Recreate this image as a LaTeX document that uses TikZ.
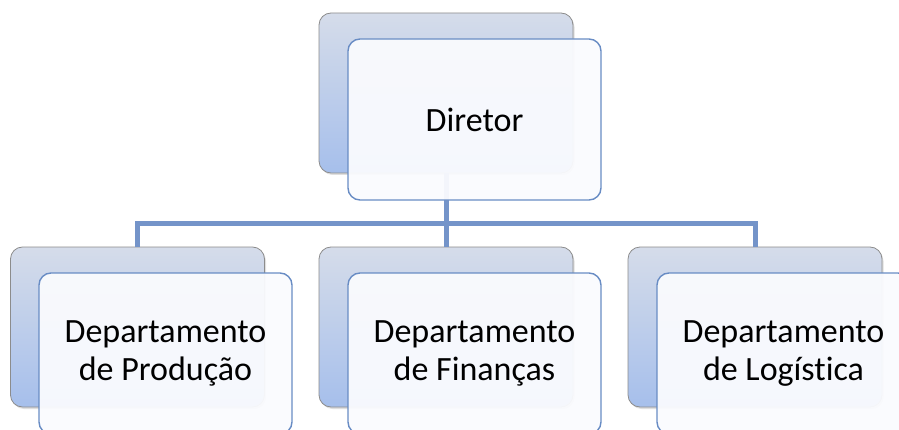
\documentclass[tikz,border=0pt]{standalone}
\usepackage{fontspec}
\setmainfont{Carlito}[Ligatures={NoCommon}]
\usetikzlibrary{calc,positioning,shadows}
\definecolor{linkblue}{RGB}{116,148,201}
\definecolor{edgeblue}{RGB}{104,140,196}
\definecolor{paleblue}{RGB}{213,220,234}
\definecolor{deepblue}{RGB}{166,191,235}
\definecolor{cardwhite}{RGB}{250,251,254}
\tikzstyle{backcard} = [rounded corners=12pt, minimum width=254pt,
  minimum height=160pt, inner sep=0pt, draw=black!45, line width=0.8pt,
  top color=paleblue, bottom color=deepblue,
  drop shadow={shadow xshift=1.5pt, shadow yshift=-2pt, opacity=0.25}]
\tikzstyle{frontcard} = [rounded corners=12pt, minimum width=253pt,
  minimum height=161pt, inner sep=0pt, draw=edgeblue, line width=1.4pt,
  fill=cardwhite, fill opacity=0.95, text opacity=1, align=center,
  font=\fontsize{34}{38}\selectfont]
\tikzstyle{link} = [draw=linkblue, line width=5pt]

\begin{document}
\begin{tikzpicture}[x=1pt, y=1pt]
    \useasboundingbox (0,0) rectangle (899,429);
    \clip (0,0) rectangle (899,429);

    % back cards
    \node[backcard] (dirb) at (446,336) {};
    \node[backcard] (prodb) at (137.5,102) {};
    \node[backcard] (finb) at (446,102) {};
    \node[backcard] (logb) at (755,102) {};

    % connectors
    \coordinate (bus) at (446,206);
    \draw[link] (dirb.south) -- (bus);
    \draw[link] (prodb.north) |- (bus) -| (logb.north);
    \draw[link] (bus) -- (finb.north);

    % front cards
    \node[frontcard] (dir) at ($(dirb.center)+(28.5,-26.5)$) {Diretor};
    \node[frontcard] (prod) at ($(prodb.center)+(28,-26.5)$)
      {Departamento\\de Produção};
    \node[frontcard] (fin) at ($(finb.center)+(28.5,-26.5)$)
      {Departamento\\de Finanças};
    \node[frontcard] (log) at ($(logb.center)+(28.5,-26.5)$)
      {Departamento\\de Logística};
\end{tikzpicture}
\end{document}
